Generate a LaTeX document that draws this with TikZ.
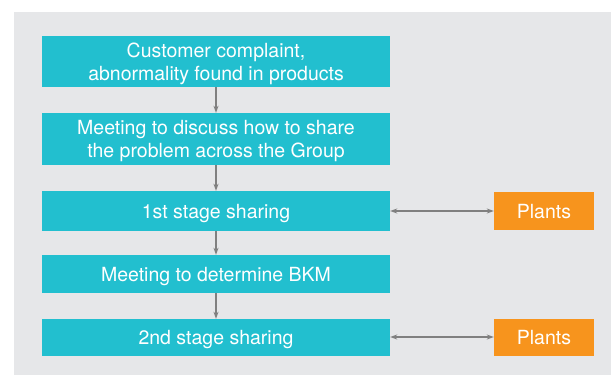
\documentclass[tikz,border=0pt]{standalone}
\usepackage{fontspec}
\setmainfont{TeX Gyre Heros}
\usepackage{tikz}
\usetikzlibrary{arrows.meta,positioning}
\definecolor{teal}{RGB}{34,191,207}
\definecolor{plantor}{RGB}{247,148,29}
\definecolor{bggray}{RGB}{230,231,233}
\definecolor{arrgray}{RGB}{128,128,128}
\begin{document}
\begin{tikzpicture}[x=1pt, y=-1pt,
    stagebox/.style={fill=teal, text=white, minimum width=348pt, align=center, inner sep=0pt, text depth=0pt, font=\fontsize{19.5}{22.5}\selectfont},
    plantbox/.style={fill=plantor, text=white, minimum width=100pt, inner sep=0pt, text depth=0pt, font=\fontsize{19.5}{22.5}\selectfont},
    flow/.style={draw=arrgray, line width=1.1pt, -{Stealth[length=7pt,width=5pt]}},
    share/.style={draw=arrgray, line width=1.1pt, {Stealth[length=7pt,width=5pt]}-{Stealth[length=7pt,width=5pt]}}]
    \useasboundingbox (0,0) rectangle (611,375);
    \fill[bggray] (14,12) rectangle (611,375);
    \node[stagebox, minimum height=51pt] (complaint) at (216,61.5) {Customer complaint,\\abnormality found in products};
    \node[stagebox, minimum height=52pt] (meetshare) at (216,139) {Meeting to discuss how to share\\the problem across the Group};
    \node[stagebox, minimum height=40pt] (stage1) at (216,211) {1st stage sharing};
    \node[stagebox, minimum height=38pt] (meetbkm) at (216,274) {Meeting to determine BKM};
    \node[stagebox, minimum height=37pt] (stage2) at (216,337.5) {2nd stage sharing};
    \node[plantbox, minimum height=38pt] (plants1) at (544,211) {Plants};
    \node[plantbox, minimum height=37pt] (plants2) at (544,337) {Plants};
    \draw[flow] (complaint) -- (meetshare);
    \draw[flow] (meetshare) -- (stage1);
    \draw[flow] (stage1) -- (meetbkm);
    \draw[flow] (meetbkm) -- (stage2);
    \draw[share] (stage1) -- (plants1);
    \draw[share] (stage2.east |- plants2) -- (plants2);
\end{tikzpicture}
\end{document}
